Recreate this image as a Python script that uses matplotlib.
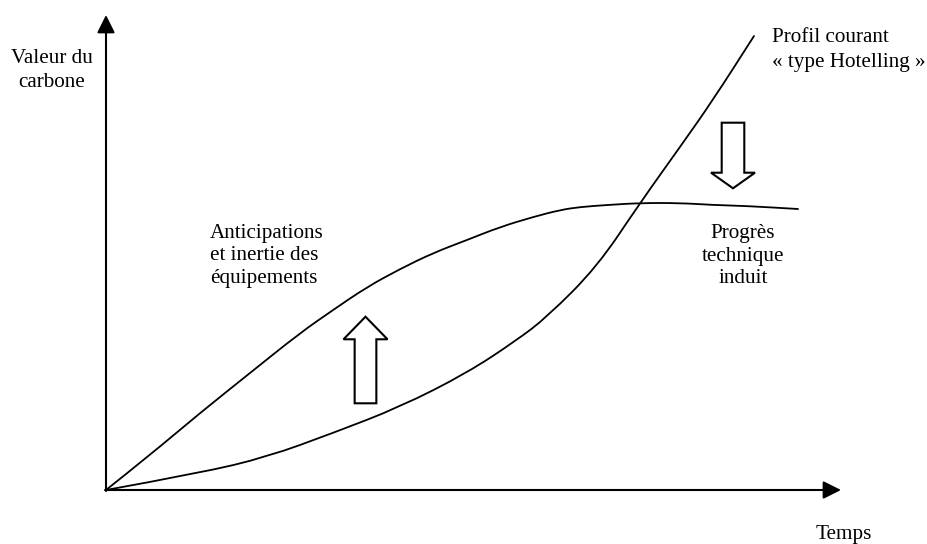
import matplotlib.pyplot as plt
from matplotlib.patches import FancyArrow, PathPatch
from matplotlib.path import Path

# schematic curves (time, carbon value), origin at the axes corner
t_hotelling = [0, 94, 161, 227, 294, 361, 411, 441, 491, 534, 574, 607, 648]
v_hotelling = [0, 17, 33, 57, 83, 117, 150, 173, 223, 287, 343, 390, 454]

t_anticip = [0, 44, 94, 144, 194, 227, 261, 294, 327, 361, 394, 427, 454, 474, 501, 534, 574, 607, 641, 692]
v_anticip = [0, 35, 77, 117, 157, 180, 203, 221, 237, 250, 263, 273, 280, 283, 285, 287, 287, 285, 284, 281]

plt.rcParams['font.family'] = ['Liberation Serif', 'DejaVu Serif']


def smooth_path(xs, ys):
    # quadratic bezier through the midpoints, the read points act as control points
    pts = list(zip(xs, ys))
    verts = [pts[0]]
    codes = [Path.MOVETO]
    for i in range(1, len(pts) - 1):
        mid = ((pts[i][0] + pts[i + 1][0]) / 2, (pts[i][1] + pts[i + 1][1]) / 2)
        verts += [pts[i], mid]
        codes += [Path.CURVE3, Path.CURVE3]
    verts.append(pts[-1])
    codes.append(Path.LINETO)
    return Path(verts, codes)


fig = plt.figure(figsize=(9.28, 5.44), dpi=100)
ax = fig.add_axes([0, 0, 1, 1])
ax.set_xlim(-106, 822)
ax.set_ylim(-54, 490)
ax.axis('off')

# axes with arrow heads
arrow_kw = dict(arrowstyle='-|>,head_length=0.4,head_width=0.2', mutation_scale=27,
                lw=1.5, color='black', shrinkA=0, shrinkB=0)
ax.annotate('', xy=(0, 475), xytext=(0, -1), arrowprops=arrow_kw)
ax.annotate('', xy=(735, 0), xytext=(-1, 0), arrowprops=arrow_kw)

for xs, ys in [(t_hotelling, v_hotelling), (t_anticip, v_anticip)]:
    ax.add_patch(PathPatch(smooth_path(xs, ys), facecolor='none', edgecolor='black',
                           lw=1.3, capstyle='round', joinstyle='round'))

# hollow block arrows
ax.add_patch(FancyArrow(259.5, 86.7, 0, 86.6, width=21.7, head_width=44, head_length=22.6,
                        length_includes_head=True, facecolor='white', edgecolor='black', lw=1.5))
ax.add_patch(FancyArrow(627, 367.3, 0, -65.6, width=22.6, head_width=44, head_length=15.6,
                        length_includes_head=True, facecolor='white', edgecolor='black', lw=1.5))

fs = 15.2
ax.text(-54, 419.5, 'Valeur du\ncarbone', ha='center', va='center', fontsize=fs, linespacing=1.36)
ax.text(738, -45, 'Temps', ha='center', va='center', fontsize=fs)
ax.text(666, 440, 'Profil courant\n« type Hotelling »', ha='left', va='center',
        fontsize=fs, linespacing=1.41)
ax.text(104, 234, 'Anticipations\net inertie des\néquipements', ha='left', va='center',
        fontsize=fs, linespacing=1.28)
ax.text(637, 234, 'Progrès\ntechnique\ninduit', ha='center', va='center',
        fontsize=fs, linespacing=1.28)

fig.savefig('out.png', dpi=100)
